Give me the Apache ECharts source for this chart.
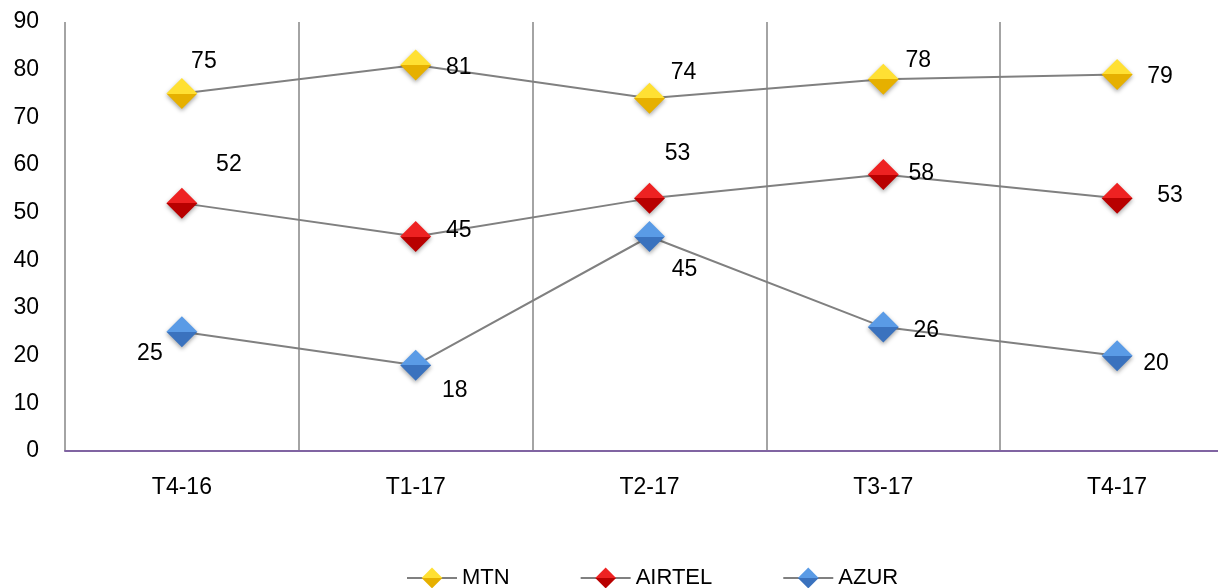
<!DOCTYPE html>
<html><head><meta charset="utf-8">
<script src="https://cdn.jsdelivr.net/npm/echarts@6/dist/echarts.min.js"></script>
<style>html,body{margin:0;padding:0;background:#fff;overflow:hidden;width:1218px;height:588px}#c{width:1234px;height:588px}</style>
</head><body><div id="c"></div>
<script>
const categories = ['T4-16','T1-17','T2-17','T3-17','T4-17'];
const mtn = [75, 81, 74, 78, 79];
const airtel = [52, 45, 53, 58, 53];
const azur = [25, 18, 45, 26, 20];
const yTicks = {min: 0, max: 90, interval: 10};

// label offsets (style only)
const offMTN = [[22,-32],[43,3],[34,-26],[35,-19],[43,2]];
const offAIR = [[47,-38],[43,-6],[28,-45],[38,-1],[53,-3]];
const offAZ = [[-32,22],[39,25],[35,33],[43,4],[39,8]];

const FONT = '"Liberation Sans", sans-serif';
const FS = 23;
function grad(top, bottom){
  return {type:'linear',x:0,y:0,x2:0,y2:1,colorStops:[{offset:0,color:top},{offset:0.5,color:top},{offset:0.5,color:bottom},{offset:1,color:bottom}]};
}
function mk(name, vals, offs, top, bottom){
  return {
    name, type:'line', data: vals.map((v,i)=>({value:v,label:{offset:offs[i]}})),
    symbol:'diamond', symbolSize:31,
    lineStyle:{color:'#808080',width:2},
    itemStyle:{color:grad(top,bottom),shadowColor:'rgba(0,0,0,0.35)',shadowBlur:4,shadowOffsetY:2},
    label:{show:true,position:'inside',color:'#000',fontFamily:FONT,fontSize:FS},
    emphasis:{disabled:true},
    animation:false
  };
}
const chart = echarts.init(document.getElementById('c'));
chart.setOption({
  animation:false,
  grid:{left:65,top:22,bottom:137,right:0,containLabel:false},
  legend:{left:401,bottom:-6,itemWidth:50,itemHeight:26,itemGap:70,
    textStyle:{fontFamily:FONT,fontSize:22,color:'#000'},
    data:['MTN','AIRTEL','AZUR']},
  xAxis:{type:'category',data:categories,boundaryGap:true,
    axisLine:{show:true,lineStyle:{color:'#8064A2',width:2}},
    axisTick:{show:false},
    axisLabel:{color:'#000',fontFamily:FONT,fontSize:FS,margin:25},
    splitLine:{show:true,lineStyle:{color:'#868686',width:1.5}}},
  yAxis:{type:'value',min:yTicks.min,max:yTicks.max,interval:yTicks.interval,
    axisLine:{show:false},axisTick:{show:false},splitLine:{show:false},
    axisLabel:{color:'#000',fontFamily:FONT,fontSize:FS,margin:26}},
  series:[
    mk('MTN',mtn,offMTN,'#FFE033','#E6B000'),
    mk('AIRTEL',airtel,offAIR,'#EE2222','#B80000'),
    mk('AZUR',azur,offAZ,'#5A9BE6','#3A72BE')
  ]
});
</script></body></html>
